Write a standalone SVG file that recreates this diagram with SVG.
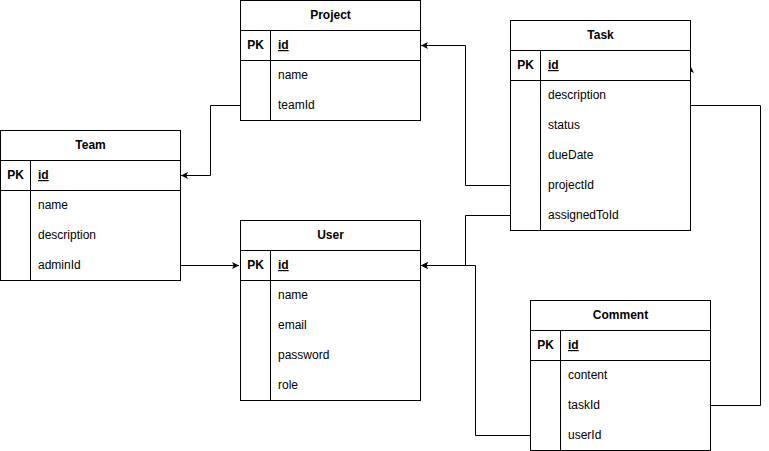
<svg xmlns="http://www.w3.org/2000/svg" width="769" height="451" viewBox="0 0 769 451">
<style>
.box{fill:#fff;stroke:#000;stroke-width:1}
.ln{fill:none;stroke:#000;stroke-width:1}
text{font-family:"Liberation Sans",Arial,sans-serif;font-size:12px;fill:#000}
.h{font-weight:bold;text-anchor:middle}
.pk{font-weight:bold;text-anchor:middle}
.id{font-weight:bold;text-decoration:underline}
.c{fill:none;stroke:#000;stroke-width:1}
</style>
<defs>
<marker id="ar" viewBox="0 0 10 10" refX="10" refY="5" markerWidth="7" markerHeight="7" orient="auto" markerUnits="userSpaceOnUse">
<path d="M0,0 L10,5 L0,10 L2.5,5 Z" fill="#000"/>
</marker>
</defs>
<rect width="769" height="451" fill="#fff"/>
<g id="connectors">
<path class="c" d="M240.5,105.5 H210.5 V175.5 H181" marker-end="url(#ar)"/>
<path class="c" d="M510.5,185.5 H465.5 V45.5 H421" marker-end="url(#ar)"/>
<path class="c" d="M510.5,215.5 H465.5 V265.5 H421" marker-end="url(#ar)"/>
<path class="c" d="M180.5,265.5 H239" marker-end="url(#ar)"/>
<path class="c" d="M530.5,435.5 H475.5 V265.5 H421" marker-end="url(#ar)"/>
<path class="c" d="M710.5,405.5 H760.5 V105.5 H690.5 V66" marker-end="url(#ar)"/>
</g>
<g id="project">
<rect class="box" x="240.5" y="0.5" width="180" height="120"/>
<path class="ln" d="M240.5,30.5 H420.5 M240.5,60.5 H420.5 M270.5,30.5 V120.5"/>
<text class="h" x="330.5" y="19">Project</text>
<text class="pk" x="255.5" y="49">PK</text>
<text class="id" x="278" y="49">id</text>
<text x="278" y="79">name</text>
<text x="278" y="109">teamId</text>
</g>
<g id="task">
<rect class="box" x="510.5" y="20.5" width="180" height="210"/>
<path class="ln" d="M510.5,50.5 H690.5 M510.5,80.5 H690.5 M540.5,50.5 V230.5"/>
<text class="h" x="600.5" y="39">Task</text>
<text class="pk" x="525.5" y="69">PK</text>
<text class="id" x="548" y="69">id</text>
<text x="548" y="99">description</text>
<text x="548" y="129">status</text>
<text x="548" y="159">dueDate</text>
<text x="548" y="189">projectId</text>
<text x="548" y="219">assignedToId</text>
</g>
<g id="team">
<rect class="box" x="0.5" y="130.5" width="180" height="150"/>
<path class="ln" d="M0.5,160.5 H180.5 M0.5,190.5 H180.5 M30.5,160.5 V280.5"/>
<text class="h" x="90.5" y="149">Team</text>
<text class="pk" x="15.5" y="179">PK</text>
<text class="id" x="38" y="179">id</text>
<text x="38" y="209">name</text>
<text x="38" y="239">description</text>
<text x="38" y="269">adminId</text>
</g>
<g id="user">
<rect class="box" x="240.5" y="220.5" width="180" height="180"/>
<path class="ln" d="M240.5,250.5 H420.5 M240.5,280.5 H420.5 M270.5,250.5 V400.5"/>
<text class="h" x="330.5" y="239">User</text>
<text class="pk" x="255.5" y="269">PK</text>
<text class="id" x="278" y="269">id</text>
<text x="278" y="299">name</text>
<text x="278" y="329">email</text>
<text x="278" y="359">password</text>
<text x="278" y="389">role</text>
</g>
<g id="comment">
<rect class="box" x="530.5" y="300.5" width="180" height="150"/>
<path class="ln" d="M530.5,330.5 H710.5 M530.5,360.5 H710.5 M560.5,330.5 V450.5"/>
<text class="h" x="620.5" y="319">Comment</text>
<text class="pk" x="545.5" y="349">PK</text>
<text class="id" x="568" y="349">id</text>
<text x="568" y="379">content</text>
<text x="568" y="409">taskId</text>
<text x="568" y="439">userId</text>
</g>
</svg>
